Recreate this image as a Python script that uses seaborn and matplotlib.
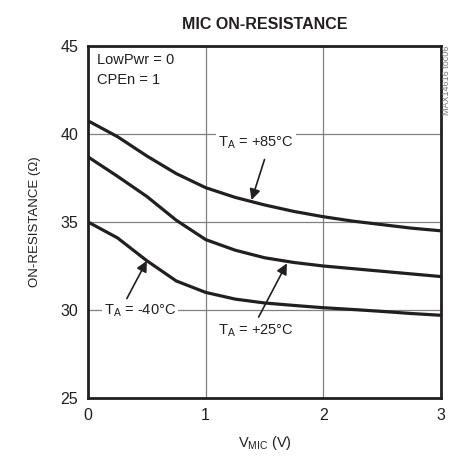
import numpy as np
import pandas as pd
import seaborn as sns
from matplotlib import pyplot as plt

# VMIC sweep (V) and on-resistance (ohm)
vmic = [0, 0.25, 0.5, 0.75, 1, 1.25, 1.5, 1.75, 2, 2.25, 2.5, 2.75, 3]
r_85 = [40.75, 39.85, 38.75, 37.75, 36.95, 36.4, 35.97, 35.6, 35.3, 35.05, 34.85, 34.65, 34.5]
r_25 = [38.7, 37.6, 36.45, 35.1, 34.0, 33.4, 32.97, 32.7, 32.5, 32.35, 32.2, 32.05, 31.9]
r_m40 = [35.0, 34.1, 32.8, 31.65, 31.0, 30.62, 30.4, 30.26, 30.13, 30.03, 29.92, 29.8, 29.7]
temps = ['+85', '+25', '-40']

df = pd.DataFrame({
    'VMIC': vmic * 3,
    'R': r_85 + r_25 + r_m40,
    'TA': [t for t in temps for _ in vmic],
})

sns.set_style("white")
plt.rcParams['font.family'] = ['Liberation Sans', 'DejaVu Sans']

fig = plt.figure(figsize=(4.5, 4.66), dpi=100)
ax = fig.add_axes([0.1956, 0.1459, 0.7844, 0.7554])

sns.lineplot(data=df, x='VMIC', y='R', units='TA', estimator=None,
             color='#231f20', lw=2.3, ax=ax, zorder=3)
for ln in ax.get_lines():
    ln.set_solid_joinstyle('round')

ax.set_xlim(0, 3)
ax.set_ylim(25, 45)
ax.set_xticks([0, 1, 2, 3])
ax.set_yticks([25, 30, 35, 40, 45])
ax.grid(True, color='#808080', lw=0.9)
ax.tick_params(length=0, labelsize=11.5, pad=7, colors='#231f20')
for s in ax.spines.values():
    s.set_linewidth(2.0)
    s.set_color('#231f20')

ax.set_xlabel(r'V$_\mathregular{MIC}$ (V)', fontsize=10.5, color='#231f20', labelpad=8)
ax.set_ylabel('ON-RESISTANCE (Ω)', fontsize=9.5, color='#231f20', labelpad=14)
ax.set_title('MIC ON-RESISTANCE', fontsize=11.5, fontweight='bold', color='#231f20', pad=12)

ax.text(0.025, 0.98, 'LowPwr = 0\nCPEn = 1', transform=ax.transAxes, ha='left', va='top',
        fontsize=10.5, color='#231f20', linespacing=1.5)

box = dict(facecolor='white', edgecolor='none', pad=1.5)
arrow = dict(arrowstyle='-|>', color='#231f20', lw=1.2, mutation_scale=16, shrinkA=0, shrinkB=0)

ax.text(1.43, 39.5, r'T$_\mathregular{A}$ = +85°C', ha='center', va='center', fontsize=10.5,
        color='#231f20', bbox=box, zorder=4)
ax.annotate('', xy=(1.39, 36.25), xytext=(1.50, 38.55), arrowprops=arrow, zorder=5)

ax.text(0.44, 29.95, r'T$_\mathregular{A}$ = -40°C', ha='center', va='center', fontsize=10.5,
        color='#231f20', bbox=box, zorder=4)
ax.annotate('', xy=(0.50, 32.8), xytext=(0.33, 30.65), arrowprops=arrow, zorder=5)

ax.text(1.43, 28.85, r'T$_\mathregular{A}$ = +25°C', ha='center', va='center', fontsize=10.5,
        color='#231f20', bbox=box, zorder=4)
ax.annotate('', xy=(1.69, 32.65), xytext=(1.45, 29.6), arrowprops=arrow, zorder=5)

fig.text(0.993, 0.828, 'MAX14616 toc06', rotation=90, ha='center', va='center',
         fontsize=6.5, color='#777777')

plt.savefig('out.png', dpi=100)
